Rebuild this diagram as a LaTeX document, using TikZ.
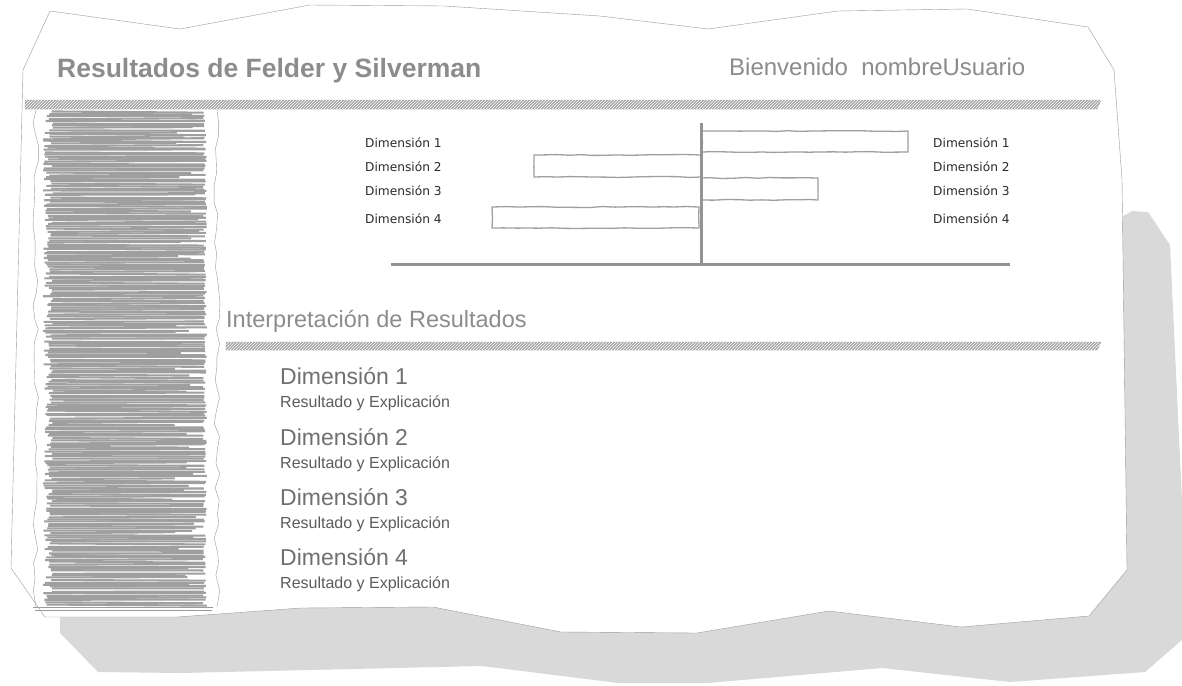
\documentclass[tikz,border=0pt]{standalone}
\usepackage{fontspec}
\setmainfont{Liberation Sans}
\newfontfamily\labelfont{DejaVu Sans}
\usetikzlibrary{patterns,decorations.pathmorphing}
\definecolor{inkgray}{HTML}{8C8C8C}
\definecolor{shadowgray}{HTML}{D9D9D9}
\definecolor{edgegray}{HTML}{9A9A9A}
\definecolor{headgray}{HTML}{707070}
\definecolor{textgray}{HTML}{5C5C5C}
\definecolor{labelgray}{HTML}{2A2A2A}
\begin{document}
\begin{tikzpicture}[x=1pt, y=-1pt,
    title/.style = {anchor=west, inner sep=0pt, text=inkgray, font=\fontsize{26.5}{30}\selectfont\bfseries},
    greet/.style = {anchor=west, inner sep=0pt, text=inkgray, font=\fontsize{24}{28}\selectfont},
    section/.style = {anchor=west, inner sep=0pt, text=inkgray, font=\fontsize{23.5}{27}\selectfont},
    dimhead/.style = {anchor=west, inner sep=0pt, text=headgray, font=\fontsize{23}{27}\selectfont},
    dimtext/.style = {anchor=west, inner sep=0pt, text=textgray, font=\fontsize{16}{19}\selectfont},
    barlabel/.style = {anchor=west, inner sep=0pt, text=labelgray, font=\labelfont\fontsize{12.2}{14}\selectfont},
    hatchbar/.style = {draw=edgegray, fill=gray!70, postaction={pattern=north east lines, pattern color=white}},
    chartbar/.style = {draw=gray!75, line width=1.3pt, decorate, decoration={random steps, segment length=12pt, amplitude=0.5pt}},
    axis/.style = {draw=gray!85, line width=3pt},
    scribble/.style = {draw=gray!75, line width=2.1pt},
    wavy/.style = {draw=edgegray, decorate, decoration={random steps, segment length=13pt, amplitude=3pt}}]
\useasboundingbox (0,0) rectangle (1182,685);

% shadow and sheet
\fill[shadowgray] (1125,215) -- (1132,211) -- (1148,212) -- (1170,245) -- (1182,500) -- (1182,640)
  -- (1145,672) -- (1010,682) -- (882,668) -- (708,683) -- (618,683) -- (482,666) -- (181,673)
  -- (98,672) -- (60,633) -- (60,600) -- cycle;
\draw[edgegray, fill=white] (50,11) -- (180,29) -- (310,5) -- (444,6) -- (600,16) -- (708,29)
  -- (838,11) -- (967,9) -- (1088,27) -- (1114,70) -- (1122,180) -- (1127,570) -- (1089,616)
  -- (961,627) -- (829,611) -- (697,633) -- (561,632) -- (433,607) -- (301,608) -- (177,617)
  -- (45,617) -- (11,568) -- (23,70) -- cycle;

% header
\node[title] (title) at (57,71) {Resultados de Felder y Silverman};
\node[greet] (user) at (729,67) {Bienvenido\ \ nombreUsuario};
\draw[hatchbar] (25,100) -- (1101,100) -- (1097,109) -- (25,109) -- cycle;

% sidebar
\pgfmathsetseed{7}
\foreach \k in {0,...,219} {
  \pgfmathsetmacro{\yy}{112+\k*2.25}
  \pgfmathsetmacro{\xa}{43+10*rnd}
  \pgfmathsetmacro{\xb}{rnd<0.8 ? 203+4*rnd : 172+28*rnd}
  \pgfmathsetmacro{\ya}{\yy+1.4*(rnd-0.5)}
  \pgfmathsetmacro{\yb}{\yy+1.8*(rnd-0.5)}
  \draw[scribble] (\xa,\ya) -- (\xb,\yb);
}
\draw[wavy] (36,110) -- (36,607);
\draw[wavy] (217,110) -- (217,607);
\draw[edgegray] (33,607) -- (213,607);
\draw[edgegray] (35,610) -- (212,610);

% chart
\coordinate (top) at (701,123);
\coordinate (origin) at (701,264);
\coordinate (xmin) at (391,264);
\coordinate (xmax) at (1010,264);
\draw[chartbar] (702,131) rectangle (908,152);
\draw[chartbar] (534,155) rectangle (701,177);
\draw[chartbar] (702,178) rectangle (818,200);
\draw[chartbar] (492,207) rectangle (699,228);
\draw[axis] (xmin) -- (xmax);
\draw[axis] (top) -- (origin);
\foreach \i/\y in {1/143,2/167,3/191,4/219} {
  \node[barlabel] (left\i) at (365,\y) {Dimensión \i};
  \node[barlabel] (right\i) at (933,\y) {Dimensión \i};
}

% interpretation
\node[section] (interp) at (226,321) {Interpretación de Resultados};
\draw[hatchbar] (226,342) -- (1101,342) -- (1097,350) -- (226,350) -- cycle;
\foreach \i/\y in {1/376,2/437,3/497,4/557} {
  \node[dimhead] (dim\i) at (280,\y) {Dimensión \i};
  \node[dimtext] (res\i) at (280,\y+27) {Resultado y Explicación};
}
\end{tikzpicture}
\end{document}
